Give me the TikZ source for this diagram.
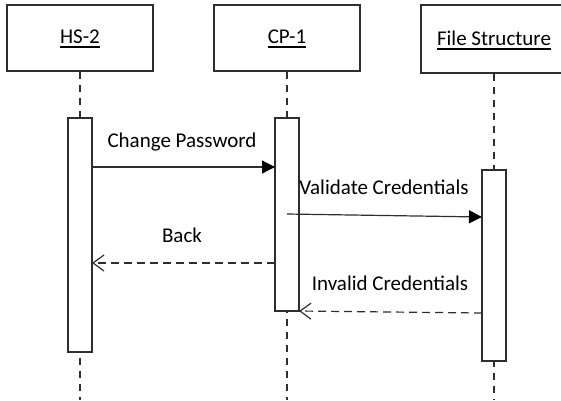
\documentclass[tikz,border=0pt]{standalone}
\usepackage{fontspec}
\setmainfont{Carlito}
\usetikzlibrary{arrows.meta}

% underlined participant name
\newcommand\ulined[1]{\leavevmode\setbox0=\hbox{#1}\rlap{\copy0}\rule[-4.7pt]{\wd0}{1.5pt}}

\tikzset{
  ink/.style={draw=black!82, line width=1.2pt},
  participant/.style={ink, fill=white, rectangle, inner sep=0pt},
  lifeline/.style={ink, dash pattern=on 7pt off 6pt},
  activation/.style={ink, fill=white},
  call/.style={ink, -{Triangle[length=13pt,width=13pt,color=black]}},
  reply/.style={ink, dash pattern=on 8pt off 5pt, -{Straight Barb[length=11pt,width=16pt]}},
  msg/.style={anchor=base, inner sep=0pt, text=black, font=\fontsize{21}{25}\selectfont},
}

\begin{document}
\begin{tikzpicture}[x=1pt, y=-1pt]
  \useasboundingbox (0,0) rectangle (561,400);

  % participant heads
  \node[participant, minimum width=146pt, minimum height=66pt] (hs) at (80,38) {};
  \node[participant, minimum width=146pt, minimum height=66pt] (cp) at (287,38) {};
  \node[participant, minimum width=146pt, minimum height=68pt] (fs) at (494,39) {};
  \node[msg] (hslabel) at (80,43) {\ulined{HS-2}};
  \node[msg] (cplabel) at (287,43) {\ulined{CP-1}};
  \node[msg] (fslabel) at (494,45) {\ulined{File Structure}};

  % lifelines
  \coordinate (hsend) at (80,400);
  \coordinate (cpend) at (287,400);
  \coordinate (fsend) at (494,400);
  \draw[lifeline] (hs.south) -- (hsend);
  \draw[lifeline] (cp.south) -- (cpend);
  \draw[lifeline] (fs.south) -- (fsend);

  % activation bars
  \draw[activation] (68,118) rectangle (92,352);
  \draw[activation] (275,118) rectangle (299,311);
  \draw[activation] (482,170) rectangle (506,361);

  % message end points
  \coordinate (m1a) at (92,167);   \coordinate (m1b) at (275,167);
  \coordinate (m2a) at (287,214);  \coordinate (m2b) at (482,217);
  \coordinate (m3a) at (275,263);  \coordinate (m3b) at (92,263);
  \coordinate (m4a) at (482,313);  \coordinate (m4b) at (299,311);

  % messages
  \draw[call] (m1a) -- (m1b);
  \node[msg] (m1) at (182,147) {Change Password};
  \draw[call] (m2a) -- (m2b);
  \node[msg] (m2) at (384,194) {Validate Credentials};
  \draw[reply] (m3a) -- (m3b);
  \node[msg] (m3) at (182,242) {Back};
  \draw[reply] (m4a) -- (m4b);
  \node[msg] (m4) at (390,290) {Invalid Credentials};
\end{tikzpicture}
\end{document}
